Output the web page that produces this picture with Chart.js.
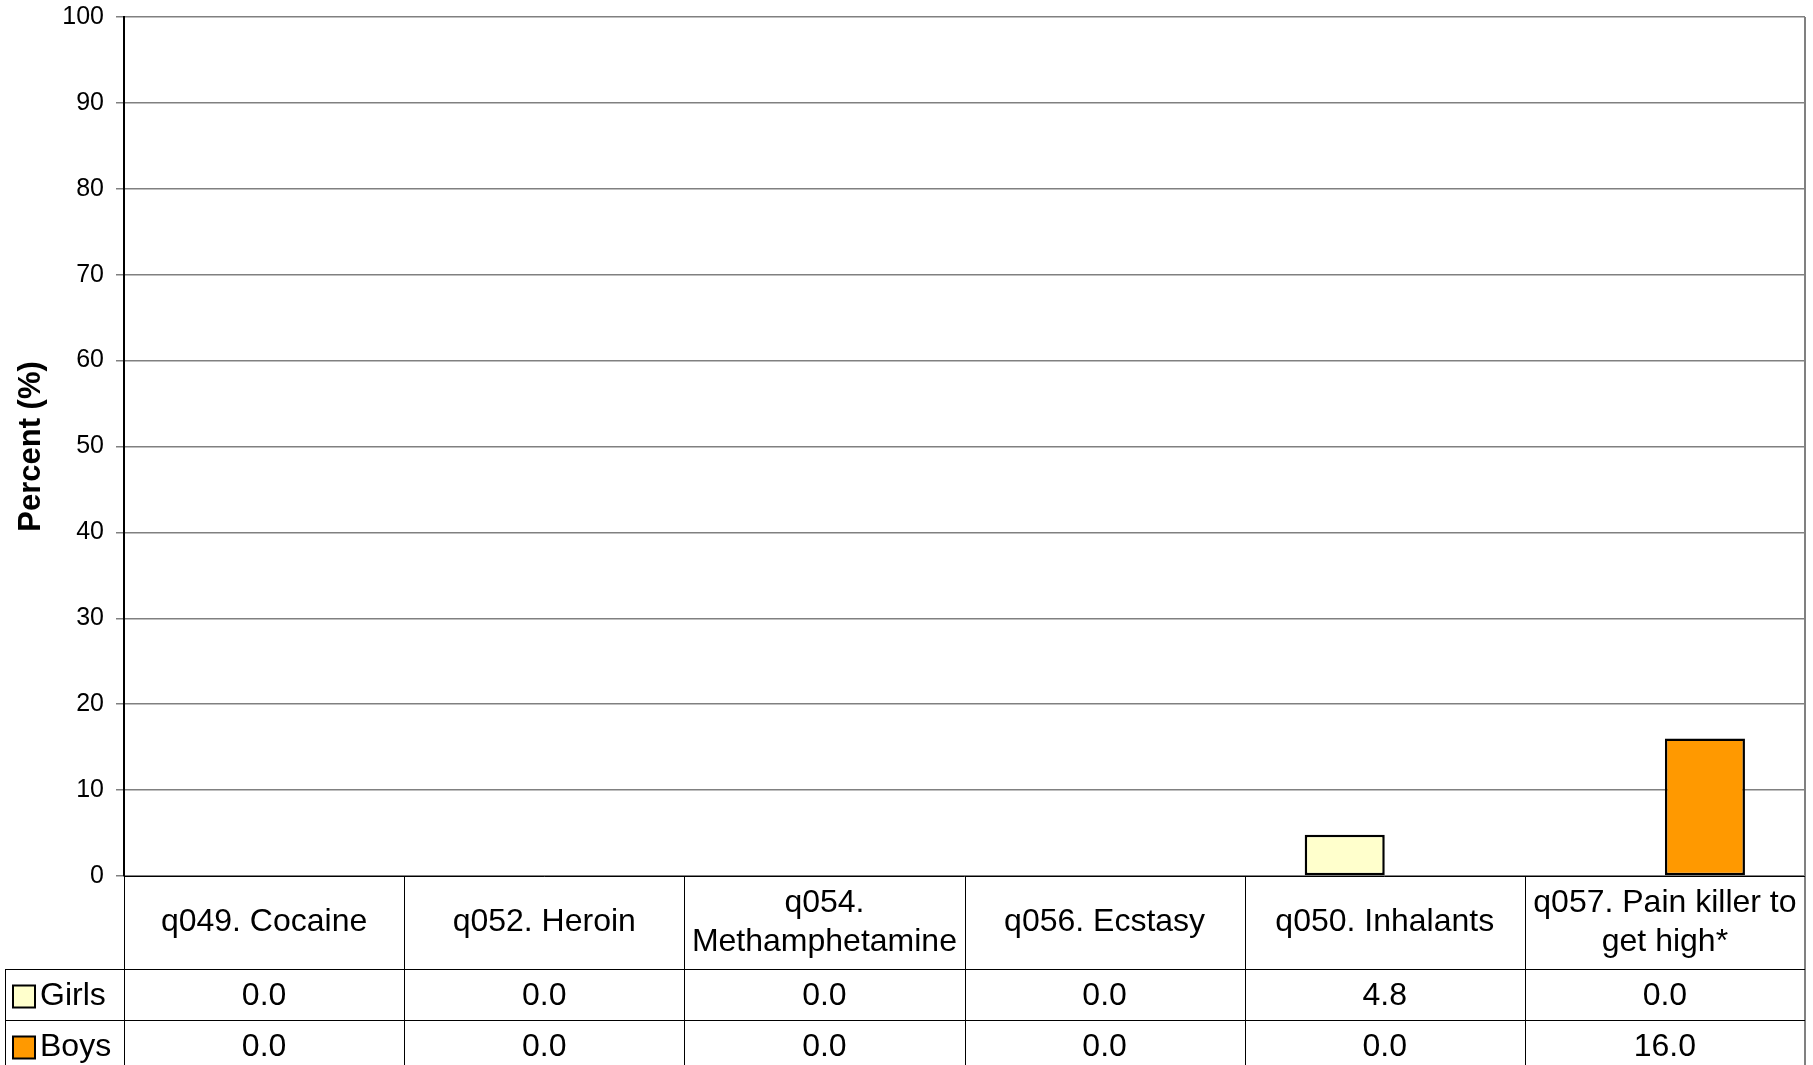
<!DOCTYPE html>
<html>
<head>
<meta charset="utf-8">
<script src="https://cdn.jsdelivr.net/npm/chart.js@4"></script>
<style>
  html, body { margin: 0; padding: 0; background: #fff; }
  canvas { display: block; }
</style>
</head>
<body>
<canvas id="drugChart" width="1813" height="1065"></canvas>
<script>
// --- Data ---
const categories = [
  ["q049. Cocaine"],
  ["q052. Heroin"],
  ["q054.", "Methamphetamine"],
  ["q056. Ecstasy"],
  ["q050. Inhalants"],
  ["q057. Pain killer to", "get high*"]
];
const girlsValues = [0.0, 0.0, 0.0, 0.0, 4.8, 0.0];
const boysValues = [0.0, 0.0, 0.0, 0.0, 0.0, 16.0];
const seriesNames = ["Girls", "Boys"];
const seriesColors = ["#FFFFCC", "#FF9900"];
const yMin = 0;
const yMax = 100;
const yStep = 10;

const FONT = "'Liberation Sans', Arial, sans-serif";

// Draws the data table under the plot (header row + one row per series)
const dataTablePlugin = {
  id: 'dataTable',
  afterDraw(chart) {
    const ctx = chart.ctx;
    const area = chart.chartArea;
    const xScale = chart.scales.x;
    const half = (xScale.getPixelForValue(1) - xScale.getPixelForValue(0)) / 2;
    const headerTop = area.bottom;
    const headerBottom = headerTop + 93;
    const rowH = 51;
    const tableBottom = headerBottom + rowH * seriesNames.length;
    const legendLeft = 5;
    const values = [girlsValues, boysValues];

    ctx.save();

    // right border of plot + table (gray)
    ctx.strokeStyle = '#808080';
    ctx.lineWidth = 2;
    ctx.beginPath();
    ctx.moveTo(area.right, area.top);
    ctx.lineTo(area.right, tableBottom);
    ctx.stroke();

    // table lines
    ctx.strokeStyle = '#000';
    ctx.lineWidth = 1;
    ctx.beginPath();
    // zero line / top of header
    ctx.moveTo(area.left, Math.round(headerTop) + 0.5);
    ctx.lineTo(area.right, Math.round(headerTop) + 0.5);
    // row separators
    for (let r = 0; r < seriesNames.length; r++) {
      const y = Math.round(headerBottom + r * rowH) + 0.5;
      ctx.moveTo(legendLeft, y);
      ctx.lineTo(area.right, y);
    }
    // legend column left border
    ctx.moveTo(legendLeft + 0.5, headerBottom);
    ctx.lineTo(legendLeft + 0.5, tableBottom);
    // column boundaries
    for (let i = 0; i < categories.length; i++) {
      const x = Math.round(xScale.getPixelForValue(i) - half) + 0.5;
      ctx.moveTo(x, headerTop);
      ctx.lineTo(x, tableBottom);
    }
    ctx.stroke();

    // header labels
    ctx.fillStyle = '#000';
    ctx.textAlign = 'center';
    ctx.textBaseline = 'middle';
    ctx.font = '32px ' + FONT;
    const headerMid = (headerTop + headerBottom) / 2;
    const lineH = 39;
    categories.forEach((lines, i) => {
      const cx = xScale.getPixelForValue(i);
      const startY = headerMid - (lines.length - 1) * lineH / 2;
      lines.forEach((txt, k) => ctx.fillText(txt, cx, startY + k * lineH));
    });

    // value rows
    values.forEach((arr, r) => {
      const mid = headerBottom + r * rowH + rowH / 2 + 2;
      arr.forEach((v, i) => {
        ctx.fillText(v.toFixed(1), xScale.getPixelForValue(i), mid);
      });
      // legend key
      ctx.fillStyle = seriesColors[r];
      ctx.fillRect(13, mid - 11, 22, 22);
      ctx.strokeStyle = '#000';
      ctx.lineWidth = 2;
      ctx.strokeRect(13, mid - 11, 22, 22);
      ctx.fillStyle = '#000';
      ctx.textAlign = 'left';
      ctx.fillText(seriesNames[r], 40, mid);
      ctx.textAlign = 'center';
    });

    ctx.restore();
  }
};

const ctx = document.getElementById('drugChart').getContext('2d');
const drugChart = new Chart(ctx, {
  type: 'bar',
  data: {
    labels: categories,
    datasets: [
      {
        label: seriesNames[0],
        data: girlsValues,
        backgroundColor: seriesColors[0],
        borderColor: '#000',
        borderWidth: 2.5,
        borderSkipped: false
      },
      {
        label: seriesNames[1],
        data: boysValues,
        backgroundColor: seriesColors[1],
        borderColor: '#000',
        borderWidth: 2.5,
        borderSkipped: false
      }
    ]
  },
  options: {
    responsive: false,
    animation: false,
    devicePixelRatio: 1,
    layout: {
      padding: { top: 17, right: 8, bottom: 189, left: 0 }
    },
    categoryPercentage: 0.5714,
    barPercentage: 1.0,
    plugins: {
      legend: { display: false },
      tooltip: { enabled: false },
      title: { display: false }
    },
    scales: {
      x: {
        display: false
      },
      y: {
        min: yMin,
        max: yMax,
        afterFit(scale) {
          scale.width = 124;
          scale.paddingTop = 15;
          scale.paddingBottom = 15;
        },
        ticks: {
          stepSize: yStep,
          color: '#000',
          padding: 12,
          font: { family: FONT, size: 25 }
        },
        grid: {
          color: '#808080',
          lineWidth: 1.5,
          tickLength: 8
        },
        border: { color: '#000', width: 2 },
        title: {
          display: true,
          text: 'Percent (%)',
          color: '#000',
          padding: { top: 13, bottom: 0 },
          font: { family: FONT, size: 31, weight: 'bold' }
        }
      }
    }
  },
  plugins: [dataTablePlugin]
});
</script>
</body>
</html>
